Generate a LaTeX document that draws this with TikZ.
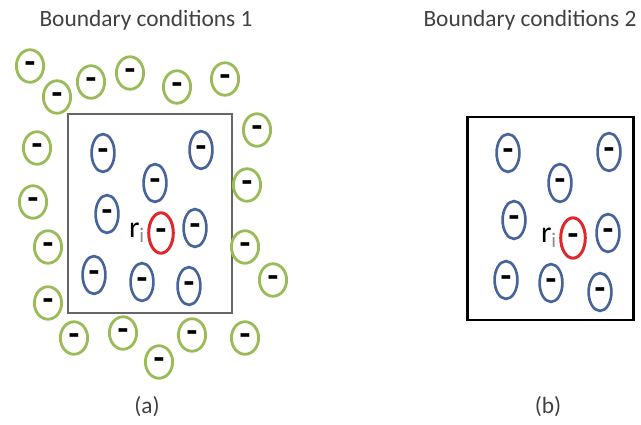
\documentclass[tikz,border=0pt]{standalone}
\usepackage{fontspec}
\setmainfont{Carlito}
\usetikzlibrary{shapes.geometric}

\begin{document}
\begin{tikzpicture}[x=0.02cm,y=-0.02cm,
    ion/.style={ellipse,inner sep=0pt,text height=9pt,text depth=0pt,
        font=\bfseries\fontsize{20}{20}\selectfont},
    image/.style={ion,draw=imageGreen,line width=1.6pt,minimum width=15.5pt,minimum height=18.5pt},
    charge/.style={ion,draw=chargeBlue,line width=1.5pt,minimum width=13pt,minimum height=21.5pt},
    central/.style={ion,draw=centralRed,line width=1.7pt,minimum width=14pt,minimum height=23pt},
    title/.style={font=\fontsize{13.3}{15}\selectfont,text=black!75},
    label/.style={font=\fontsize{17}{17}\selectfont,inner sep=1pt}]
    % Define colours
    \definecolor{imageGreen}{HTML}{9BBB59}
    \definecolor{chargeBlue}{HTML}{46649A}
    \definecolor{centralRed}{HTML}{E0282C}

    % Fix the page size
    \useasboundingbox (0,0) rectangle (641,425);

    % Titles and captions
    \node[title] (titleA) at (146,20) {Boundary conditions 1};
    \node[title] (titleB) at (530,20) {Boundary conditions 2};
    \node[title] (capA) at (147,407) {(a)};
    \node[title] (capB) at (548,407) {(b)};

    % (a) simulation cell with its periodic images
    \draw[black!60,line width=0.9pt] (68,114) rectangle (232,313);
    \foreach \x/\y [count=\i] in {30/66,57/97,91/82,130/73,177/87,225/79,257/130,
        37/148,247/185,33/202,48/247,245/247,273/280,48/303,74/338,123/333,
        159/362,192/335,245/338}
        \node[image] (g\i) at (\x,\y) {-};
    \foreach \x/\y [count=\i] in {103/153,201/150,155/183,107/214,195/228,
        94/275,142/282,189/286}
        \node[charge] (a\i) at (\x,\y) {-};
    \node[central] (ra) at (161,233) {-};
    \node[label,left=0pt] (la) at (ra.west) {r\textsubscript{\color{black!45}i}};

    % (b) isolated simulation cell
    \draw[black,line width=1.7pt] (467,117) rectangle (633,320);
    \foreach \x/\y [count=\i] in {508/153,609/152,560/183,514/220,608/233,
        506/280,551/283,600/292}
        \node[charge] (b\i) at (\x,\y) {-};
    \node[central] (rb) at (573,238) {-};
    \node[label,left=0pt] (lb) at (rb.west) {r\textsubscript{\color{black!45}i}};

\end{tikzpicture}
\end{document}
